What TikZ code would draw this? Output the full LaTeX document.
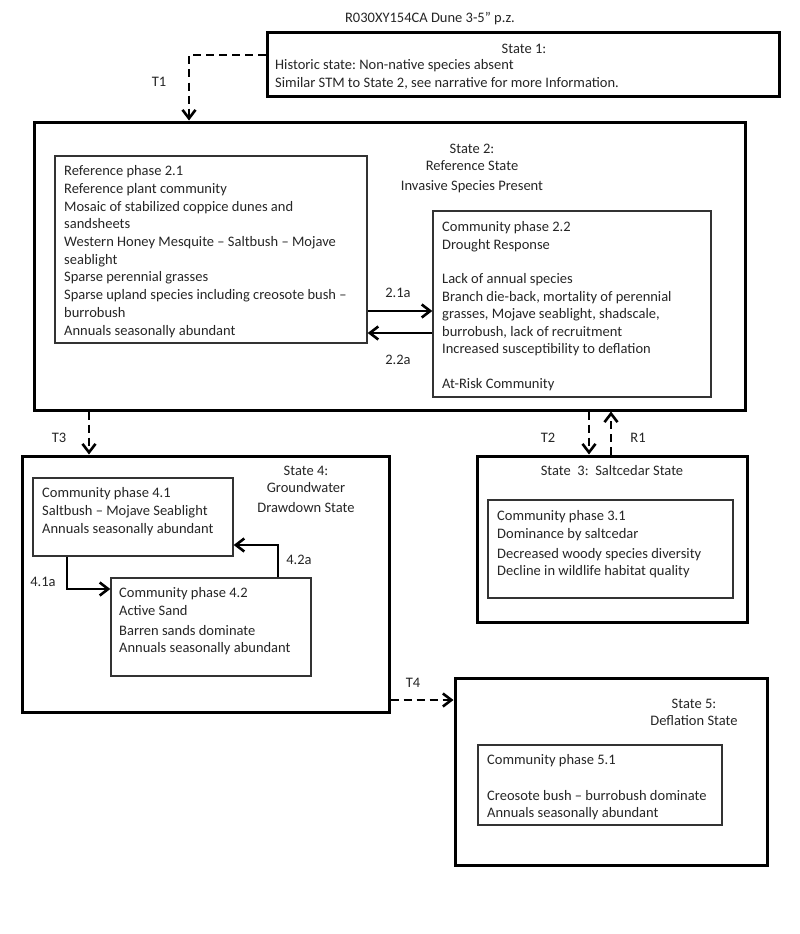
\documentclass[tikz,border=0pt]{standalone}
\usepackage{fontspec}
\setmainfont{Carlito}
\usetikzlibrary{arrows.meta}
\begin{document}
\frenchspacing
\begin{tikzpicture}[x=1pt,y=-1pt,
  statebox/.style={draw=black,line width=3pt,rectangle,inner sep=0pt},
  phasebox/.style={draw=black!80,line width=1.3pt,rectangle,inner sep=0pt},
  txt/.style={inner sep=0pt,align=left,anchor=north west,font=\frenchspacing\fontsize{14.5}{17.7}\selectfont,text=black!85},
  ctxt/.style={inner sep=0pt,align=center,font=\frenchspacing\fontsize{14.5}{17.7}\selectfont,text=black!85},
  tip/.style={-{Straight Barb[length=8.5pt,width=13pt,line width=2.6pt]}},
  trans/.style={tip,line width=1.2pt,dash pattern=on 8pt off 5pt},
  phase/.style={tip,line width=1.2pt}
]
\useasboundingbox (0,0) rectangle (800,934);
\fill[white] (0,0) rectangle (800,934);

% boxes
\node[statebox,minimum width=512pt,minimum height=63pt] (s1) at (523,64.5) {};
\node[statebox,minimum width=711pt,minimum height=288pt] (s2) at (389.5,266) {};
\node[phasebox,minimum width=312pt,minimum height=187pt] (p21) at (211,249.5) {};
\node[phasebox,minimum width=278pt,minimum height=186pt] (p22) at (572,304) {};
\node[statebox,minimum width=367pt,minimum height=256pt] (s4) at (205.5,584) {};
\node[phasebox,minimum width=200pt,minimum height=78pt] (p41) at (133,517) {};
\node[phasebox,minimum width=200pt,minimum height=98pt] (p42) at (211,627) {};
\node[statebox,minimum width=270pt,minimum height=166pt] (s3) at (612,539) {};
\node[phasebox,minimum width=245pt,minimum height=98pt] (p31) at (610.5,549) {};
\node[statebox,minimum width=312pt,minimum height=187pt] (s5) at (611,771.5) {};
\node[phasebox,minimum width=244pt,minimum height=80pt] (p51) at (600,785) {};

% texts
\node[ctxt] (title) at (430,19) {R030XY154CA Dune 3-5” p.z.};
\node[ctxt] (s1t) at (524,49) {State 1:};
\node[txt] (s1b) at (275,59.5) {Historic state: Non-native species absent\\[0.5pt]
Similar STM to State 2, see narrative for more Information.};
\node[ctxt,anchor=north] (s2t) at (472,143.5) {State 2:\\Reference State\\[2pt]Invasive Species Present};
\node[txt] (p21t) at (64,165.5) {Reference phase 2.1\\
Reference plant community\\
Mosaic of stabilized coppice dunes and\\
sandsheets\\
Western Honey Mesquite – Saltbush – Mojave\\
seablight\\
Sparse perennial grasses\\
Sparse upland species including creosote bush –\\
burrobush\\
Annuals seasonally abundant};
\node[txt,font=\frenchspacing\fontsize{14.5}{17.4}\selectfont] (p22t) at (442,221.5) {Community phase 2.2\\
Drought Response\\[17.4pt]
Lack of annual species\\
Branch die-back, mortality of perennial\\
grasses, Mojave seablight, shadscale,\\
burrobush, lack of recruitment\\
Increased susceptibility to deflation\\[17.4pt]
At-Risk Community};
\node[ctxt,anchor=north] (s4t) at (306,465.5) {State 4:\\Groundwater\\[2pt]Drawdown State};
\node[txt] (p41t) at (42,487.5) {Community phase 4.1\\
Saltbush – Mojave Seablight\\
Annuals seasonally abundant};
\node[txt] (p42t) at (119,587.5) {Community phase 4.2\\
Active Sand\\[2pt]
Barren sands dominate\\
Annuals seasonally abundant};
\node[ctxt] (s3t) at (612,471) {State\ \ 3:\ \ Saltcedar State};
\node[txt] (p31t) at (497,510.5) {Community phase 3.1\\
Dominance by saltcedar\\[2pt]
Decreased woody species diversity\\
Decline in wildlife habitat quality};
\node[ctxt,anchor=north] (s5t) at (694,698.5) {State 5:\\Deflation State};
\node[txt] (p51t) at (487,754.5) {Community phase 5.1\\[17.7pt]
Creosote bush – burrobush dominate\\
Annuals seasonally abundant};

% labels
\node[ctxt] (lT1) at (159,82) {T1};
\node[ctxt] (lT3) at (59,438) {T3};
\node[ctxt] (lT2) at (548,438) {T2};
\node[ctxt] (lR1) at (638,438) {R1};
\node[ctxt] (lT4) at (413,683) {T4};
\node[ctxt] (l21) at (398,293) {2.1a};
\node[ctxt] (l22) at (398,360) {2.2a};
\node[ctxt] (l41) at (43,582) {4.1a};
\node[ctxt] (l42) at (299,560) {4.2a};

% connector helper coordinates
\coordinate (t1x) at (189,0);
\coordinate (t3x) at (89,0);
\coordinate (t2x) at (589,0);
\coordinate (r1x) at (611,0);
\coordinate (t4y) at (0,700);
\coordinate (a21) at (0,311);
\coordinate (a22) at (0,333);
\coordinate (a41) at (67,589);
\coordinate (a42) at (278,545);

% transitions
\draw[trans] ([yshift=9.5pt]s1.west) -| (t1x |- s2.north);
\draw[trans] (t3x |- s2.south) -- (t3x |- s4.north);
\draw[trans] (t2x |- s2.south) -- (t2x |- s3.north);
\draw[trans] (r1x |- s3.north) -- (r1x |- s2.south);
\draw[trans] (s4.east |- t4y) -- (s5.west |- t4y);

% phase pathways
\draw[phase] (p21.east |- a21) -- (p22.west |- a21);
\draw[phase] (p22.west |- a22) -- (p21.east |- a22);
\draw[phase] (a41 |- p41.south) |- (a41 -| p42.west);
\draw[phase] (a42 |- p42.north) |- (a42 -| p41.east);
\end{tikzpicture}
\end{document}
